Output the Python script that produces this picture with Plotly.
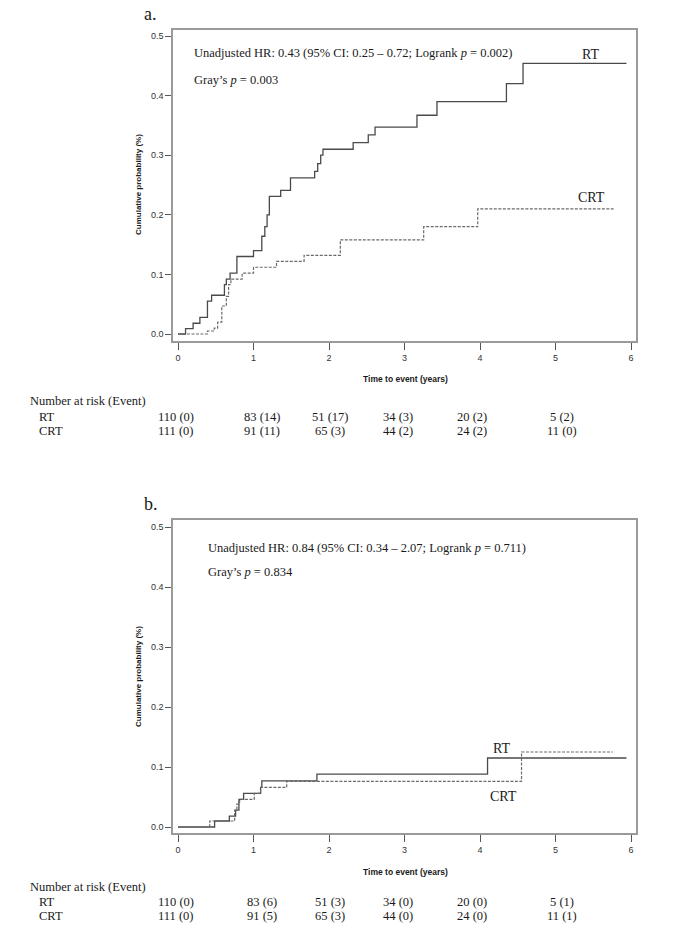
import plotly.graph_objects as go

# ---------------- data ----------------
# Panel a (step curves)
a_rt_t = [0, 0.10, 0.20, 0.29, 0.39, 0.445, 0.615, 0.64, 0.69, 0.78, 1.0, 1.11, 1.15, 1.18, 1.21,
          1.36, 1.49, 1.81, 1.85, 1.89, 1.92, 2.32, 2.52, 2.61, 3.165, 3.43, 4.35, 4.57, 5.94]
a_rt_v = [0, 0.009, 0.018, 0.028, 0.055, 0.065, 0.083, 0.092, 0.102, 0.130, 0.140, 0.164, 0.180, 0.200, 0.231,
          0.241, 0.262, 0.273, 0.286, 0.300, 0.310, 0.321, 0.334, 0.347, 0.367, 0.390, 0.420, 0.454, 0.454]
a_crt_t = [0, 0.39, 0.48, 0.525, 0.58, 0.64, 0.67, 0.70, 0.85, 1.0, 1.305, 1.67, 2.15, 3.254, 3.97, 5.77]
a_crt_v = [0, 0.005, 0.010, 0.020, 0.047, 0.063, 0.083, 0.092, 0.102, 0.112, 0.122, 0.132, 0.158, 0.180, 0.210, 0.210]

# Panel b
b_rt_t = [0, 0.485, 0.68, 0.763, 0.807, 0.869, 1.094, 1.11, 1.84, 4.10, 5.94]
b_rt_v = [0, 0.010, 0.018, 0.028, 0.046, 0.056, 0.066, 0.077, 0.088, 0.115, 0.115]
b_crt_t = [0, 0.42, 0.75, 0.78, 0.816, 1.01, 1.094, 1.44, 4.55, 5.76]
b_crt_v = [0, 0.010, 0.028, 0.038, 0.046, 0.056, 0.066, 0.076, 0.125, 0.125]

x_ticks = [0, 1, 2, 3, 4, 5, 6]
y_ticks = [0.0, 0.1, 0.2, 0.3, 0.4, 0.5]
y_ticktext = ["0.0", "0.1", "0.2", "0.3", "0.4", "0.5"]

risk_times = [0, 1, 2, 3, 4, 5]
a_risk_rt = ["110 (0)", "83 (14)", "51 (17)", "34 (3)", "20 (2)", "5 (2)"]
a_risk_crt = ["111 (0)", "91 (11)", "65 (3)", "44 (2)", "24 (2)", "11 (0)"]
b_risk_rt = ["110 (0)", "83 (6)", "51 (3)", "34 (0)", "20 (0)", "5 (1)"]
b_risk_crt = ["111 (0)", "91 (5)", "65 (3)", "44 (0)", "24 (0)", "11 (1)"]

a_hr_text = "Unadjusted HR: 0.43 (95% CI: 0.25 \u2013 0.72; Logrank <i>p</i> = 0.002)"
a_gray_text = "Gray\u2019s <i>p</i> = 0.003"
b_hr_text = "Unadjusted HR: 0.84 (95% CI: 0.34 \u2013 2.07; Logrank <i>p</i> = 0.711)"
b_gray_text = "Gray\u2019s <i>p</i> = 0.834"

# ---------------- layout helpers ----------------
W, H = 685, 945
def px_x(p): return p / W
def px_y(p): return 1 - p / H

SERIF = "Liberation Serif, Times New Roman, serif"
SANS = "Liberation Sans, Arial, sans-serif"
rt_color = "#4a4a4a"
crt_color = "#6a6a6a"
box_color = "#9a9a9a"

fig = go.Figure()

def add_curves(t1, v1, t2, v2, xa, ya):
    fig.add_trace(go.Scatter(x=t1, y=v1, mode="lines", line=dict(shape="hv", color=rt_color, width=1.3),
                             xaxis=xa, yaxis=ya, showlegend=False, hoverinfo="skip"))
    fig.add_trace(go.Scatter(x=t2, y=v2, mode="lines", line=dict(shape="hv", color=crt_color, width=1.2, dash="3px,1.5px"),
                             xaxis=xa, yaxis=ya, showlegend=False, hoverinfo="skip"))

add_curves(a_rt_t, a_rt_v, a_crt_t, a_crt_v, "x", "y")
add_curves(b_rt_t, b_rt_v, b_crt_t, b_crt_v, "x2", "y2")

x_dom = [px_x(173), px_x(636)]
x_rng = [-5 / 75.5, 6 + 5 / 75.5]

def xaxis_cfg(anchor):
    return dict(domain=x_dom, range=x_rng, anchor=anchor, showline=True, mirror=True, linecolor=box_color,
                linewidth=1.5, ticks="outside", ticklen=7, tickwidth=1, tickcolor="#555",
                tickvals=x_ticks, showgrid=False, zeroline=False,
                tickfont=dict(family=SANS, size=9, color="#333"))

def yaxis_cfg(anchor, dom, rng):
    return dict(domain=dom, range=rng, anchor=anchor, showline=True, mirror=True, linecolor=box_color,
                linewidth=1.5, ticks="outside", ticklen=6, tickwidth=1, tickcolor="#555",
                tickvals=y_ticks, ticktext=y_ticktext, showgrid=False, zeroline=False,
                tickfont=dict(family=SANS, size=9, color="#333"))

fig.update_layout(
    width=W, height=H, margin=dict(l=0, r=0, t=0, b=0),
    paper_bgcolor="white", plot_bgcolor="white",
    xaxis=xaxis_cfg("y"),
    yaxis=yaxis_cfg("x", [px_y(341), px_y(30)], [-7 / 596, 0.5 + 6 / 596]),
    xaxis2=xaxis_cfg("y2"),
    yaxis2=yaxis_cfg("x2", [px_y(833), px_y(520)], [-6 / 600, 0.5 + 7 / 600]),
)

ann = []
def txt(x, y, text, size=12.5, family=SERIF, xanchor="left", **kw):
    d = dict(x=x, y=y, xref="paper", yref="paper", text=text, showarrow=False,
             xanchor=xanchor, yanchor="middle", font=dict(family=family, size=size, color="#1a1a1a"))
    d.update(kw)
    ann.append(d)

col_shift = [-2, 8, 1, -7, -8, 6]

def panel(label, label_y, hr, gray, hr_x, hr_y, gray_y, xref, rt_lab, crt_lab,
          tick_y, risk_rt, risk_crt, rows_y, ycenter):
    txt(px_x(142), px_y(label_y), label, size=18)
    txt(px_x(hr_x), px_y(hr_y), hr)
    txt(px_x(hr_x), px_y(gray_y), gray)
    txt(px_x(rt_lab[0]), px_y(rt_lab[1]), "RT", size=14, xanchor="center")
    txt(px_x(crt_lab[0]), px_y(crt_lab[1]), "CRT", size=14, xanchor="center")
    # axis titles
    txt(px_x(405), px_y(tick_y + 24), "<b>Time to event (years)</b>", size=8.5, family=SANS, xanchor="center")
    txt(px_x(138), px_y(ycenter), "<b>Cumulative probability (%)</b>", size=8, family=SANS,
        xanchor="center", textangle=-90)
    # risk table
    txt(px_x(28), px_y(rows_y[0]), "Number at risk (Event)")
    txt(px_x(37), px_y(rows_y[1]), "RT")
    txt(px_x(37), px_y(rows_y[2]), "CRT")
    for i, t in enumerate(risk_times):
        for row, vals in ((1, risk_rt), (2, risk_crt)):
            ann.append(dict(x=t, y=px_y(rows_y[row]), xref=xref, yref="paper", text=vals[i],
                            showarrow=False, xanchor="center", yanchor="middle", xshift=col_shift[i],
                            font=dict(family=SERIF, size=12.5, color="#1a1a1a")))

panel("a.", 14, a_hr_text, a_gray_text, 192, 53, 80, "x", (590, 54), (591, 197),
      355, a_risk_rt, a_risk_crt, [401, 417, 431], 185)
panel("b.", 504, b_hr_text, b_gray_text, 206, 548, 572, "x2", (501, 748), (504, 796),
      848, b_risk_rt, b_risk_crt, [887, 902, 916], 677)

fig.update_layout(annotations=ann)
# remove the default page margin so the figure sits at the window's top-left corner
fig.write_html("out.html", config={"displayModeBar": False},
               post_script="document.body.style.margin='0';")
